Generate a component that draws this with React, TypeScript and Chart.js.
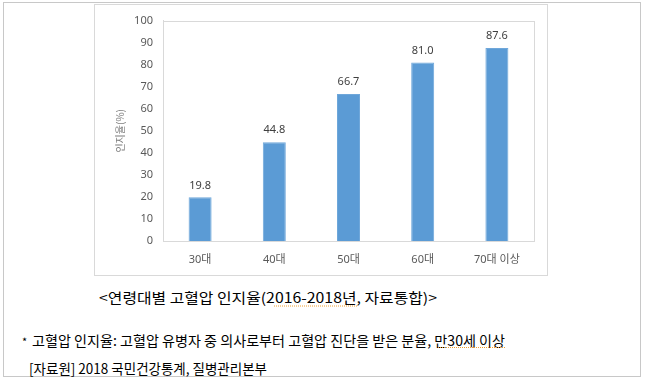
import React, { useEffect, useRef } from "react";
import { Chart, registerables } from "chart.js";

Chart.register(...registerables);

const categories = ["30대", "40대", "50대", "60대", "70대 이상"];
const awarenessRate = [19.8, 44.8, 66.7, 81.0, 87.6];
const yTicks = [0, 10, 20, 30, 40, 50, 60, 70, 80, 90, 100];
const yTitle = "인지율(%)";
const caption = "<연령대별 고혈압 인지율(2016-2018년, 자료통합)>";
const note1 = "고혈압 인지율: 고혈압 유병자 중 의사로부터 고혈압 진단을 받은 분율, 만30세 이상";
const note2 = "[자료원] 2018 국민건강통계, 질병관리본부";

const FONT = "'Noto Sans', 'Noto Sans CJK KR', sans-serif";
const KFONT = "'Noto Sans CJK KR', 'Noto Sans', sans-serif";

const valueLabels = {
  id: "valueLabels",
  afterDatasetsDraw(chart: any) {
    const ctx = chart.ctx;
    const meta = chart.getDatasetMeta(0);
    const data = chart.data.datasets[0].data as number[];
    ctx.save();
    ctx.font = `11px ${FONT}`;
    ctx.fillStyle = "#404040";
    ctx.textAlign = "center";
    ctx.textBaseline = "middle";
    meta.data.forEach((bar: any, i: number) => {
      ctx.fillText(data[i].toFixed(1), bar.x, bar.y - 12);
    });
    ctx.restore();
  },
};

const plotBorder = {
  id: "plotBorder",
  beforeDatasetsDraw(chart: any) {
    const { ctx, chartArea } = chart;
    ctx.save();
    ctx.strokeStyle = "#d9d9d9";
    ctx.lineWidth = 1;
    ctx.strokeRect(
      Math.round(chartArea.left) + 0.5,
      Math.round(chartArea.top) + 0.5,
      Math.round(chartArea.right - chartArea.left),
      Math.round(chartArea.bottom - chartArea.top)
    );
    ctx.restore();
  },
};

export default function App() {
  const ref = useRef<HTMLCanvasElement | null>(null);

  useEffect(() => {
    if (!ref.current) return;
    const chart = new Chart(ref.current, {
      type: "bar",
      data: {
        labels: categories,
        datasets: [
          {
            data: awarenessRate,
            backgroundColor: "#5B9BD5",
            borderColor: "#6FA7DA",
            borderWidth: 1,
            categoryPercentage: 1,
            barPercentage: 0.31,
          },
        ],
      },
      options: {
        responsive: false,
        animation: false,
        devicePixelRatio: 1,
        layout: { padding: { top: 13, right: 14, left: 0, bottom: 0 } },
        plugins: {
          legend: { display: false },
          tooltip: { enabled: false },
        },
        scales: {
          x: {
            grid: { display: false, drawTicks: false },
            border: { display: true, color: "#d9d9d9" },
            ticks: {
              color: "#595959",
              font: { size: 11, family: FONT },
              padding: 12,
              maxRotation: 0,
              autoSkip: false,
            },
            afterFit: (s: any) => {
              s.height = 35;
            },
          },
          y: {
            min: 0,
            max: 100,
            afterBuildTicks: (s: any) => {
              s.ticks = yTicks.map((v) => ({ value: v }));
            },
            grid: { display: false, drawTicks: false },
            border: { display: true, color: "#d9d9d9" },
            ticks: {
              color: "#595959",
              font: { size: 11, family: FONT },
              padding: 10,
            },
            title: {
              display: true,
              text: yTitle,
              color: "#7f7f7f",
              font: { size: 10, family: KFONT },
              padding: { top: 19, bottom: 0 },
            },
            afterFit: (s: any) => {
              s.width = 68;
            },
          },
        },
      },
      plugins: [plotBorder, valueLabels],
    });
    return () => chart.destroy();
  }, []);

  return (
    <div
      style={{
        position: "fixed",
        left: 0,
        top: 0,
        width: 645,
        height: 381,
        background: "#ffffff",
        overflow: "hidden",
      }}
    >
      <svg
        width={645}
        height={381}
        style={{ position: "absolute", left: 0, top: 0 }}
      >
        <rect x={3.5} y={2.5} width={637} height={374} fill="none" stroke="#c8c8c8" strokeWidth={1} />
        <rect x={94.5} y={4.5} width={453} height={271} fill="none" stroke="#d9d9d9" strokeWidth={1} />
        <text
          x={99}
          y={303}
          textLength={338}
          lengthAdjust="spacingAndGlyphs"
          fontFamily={KFONT}
          fontSize={14}
          fill="#000"
          style={{ whiteSpace: "pre" }}
        >
          {caption}
        </text>
        <line x1={274} y1={306} x2={357} y2={306} stroke="#f0a030" strokeWidth={1} strokeDasharray="1 1" />
        <text x={22} y={346} fontFamily={KFONT} fontSize={11} fill="#000">
          *
        </text>
        <text
          x={32}
          y={346}
          textLength={473}
          lengthAdjust="spacingAndGlyphs"
          fontFamily={KFONT}
          fontSize={14}
          fill="#000"
        >
          {note1}
        </text>
        <line x1={438} y1={347.5} x2={506} y2={347.5} stroke="#f0a030" strokeWidth={1} strokeDasharray="1 1" />
        <text
          x={29}
          y={374}
          textLength={238}
          lengthAdjust="spacingAndGlyphs"
          fontFamily={KFONT}
          fontSize={14}
          fill="#000"
        >
          {note2}
        </text>
      </svg>
      <canvas
        ref={ref}
        width={453}
        height={272}
        style={{ position: "absolute", left: 95, top: 4, width: 453, height: 272 }}
      />
    </div>
  );
}
